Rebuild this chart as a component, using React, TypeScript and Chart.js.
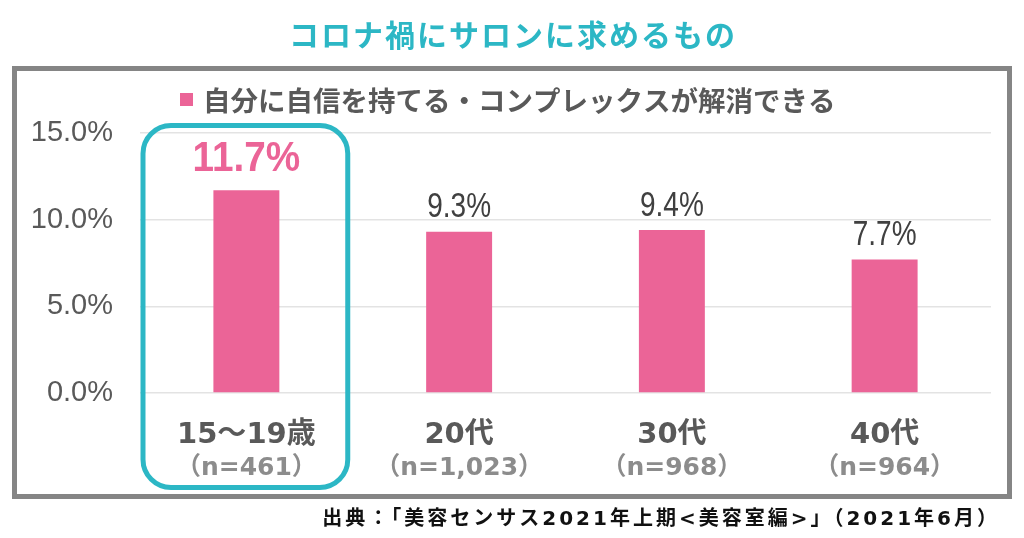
import React, { useEffect, useRef } from "react";
import { Chart, registerables } from "chart.js";

Chart.register(...registerables);

// ---- data ----
const TITLE = "コロナ禍にサロンに求めるもの";
const SERIES_NAME = "自分に自信を持てる・コンプレックスが解消できる";
const CATEGORIES = ["15〜19歳", "20代", "30代", "40代"];
const SAMPLE_SIZES = ["（n=461）", "（n=1,023）", "（n=968）", "（n=964）"];
const VALUES = [11.7, 9.3, 9.4, 7.7];
const Y_MIN = 0;
const Y_MAX = 15;
const Y_STEP = 5;
const HIGHLIGHT_INDEX = 0;
const SOURCE = "出典：「美容センサス2021年上期<美容室編>」（2021年6月）";

// ---- styles ----
const PINK = "#eb6497";
const TEAL = "#2cb7c5";
const DARK = "#595959";
const LABEL_DARK = "#404040";
const MUTED = "#8c8c8c";
const CJK = '"Noto Sans CJK JP", sans-serif';
const NUM = '"Liberation Sans", "Noto Sans CJK JP", sans-serif';
const WIDE = '"DejaVu Sans", "Noto Sans CJK JP", sans-serif';

function scaledText(ctx: CanvasRenderingContext2D, text: string, x: number, y: number, sx: number) {
  ctx.save();
  ctx.translate(x, y);
  ctx.scale(sx, 1);
  ctx.fillText(text, 0, 0);
  ctx.restore();
}

const decorPlugin = {
  id: "decor",
  beforeDraw(chart: any) {
    const ctx: CanvasRenderingContext2D = chart.ctx;
    ctx.save();
    ctx.fillStyle = "#ffffff";
    ctx.fillRect(0, 0, chart.width, chart.height);
    ctx.restore();
  },
  afterDraw(chart: any) {
    const ctx: CanvasRenderingContext2D = chart.ctx as any;
    const meta = chart.getDatasetMeta(0);
    const xScale = chart.scales.x;
    ctx.save();

    // title
    ctx.fillStyle = TEAL;
    ctx.font = `bold 30px ${CJK}`;
    (ctx as any).letterSpacing = "2px";
    ctx.textAlign = "center";
    ctx.textBaseline = "middle";
    ctx.fillText(TITLE, 513, 35);
    (ctx as any).letterSpacing = "0px";

    // frame
    ctx.strokeStyle = "#858585";
    ctx.lineWidth = 5;
    ctx.strokeRect(14.5, 68.5, 995, 428);

    // legend
    ctx.fillStyle = PINK;
    ctx.fillRect(180, 93, 13, 13);
    ctx.fillStyle = DARK;
    ctx.font = `bold 27.5px ${CJK}`;
    ctx.textAlign = "left";
    ctx.textBaseline = "middle";
    ctx.fillText(SERIES_NAME, 203, 101);

    // value labels
    meta.data.forEach((bar: any, i: number) => {
      const v = VALUES[i];
      const txt = v.toFixed(1) + "%";
      ctx.textAlign = "center";
      ctx.textBaseline = "middle";
      if (i === HIGHLIGHT_INDEX) {
        ctx.fillStyle = PINK;
        ctx.font = `bold 43px ${NUM}`;
        scaledText(ctx, txt, bar.x, bar.y - 31, 0.9);
      } else {
        ctx.fillStyle = LABEL_DARK;
        ctx.font = `35px ${NUM}`;
        scaledText(ctx, txt, bar.x, bar.y - 24, 0.8);
      }
    });

    // category labels
    CATEGORIES.forEach((c, i) => {
      const x = xScale.getPixelForValue(i);
      ctx.textAlign = "center";
      ctx.textBaseline = "middle";
      ctx.fillStyle = DARK;
      ctx.font = `bold 29px ${WIDE}`;
      ctx.fillText(c, x, 435);
      ctx.fillStyle = MUTED;
      ctx.font = `bold 25px ${WIDE}`;
      ctx.fillText(SAMPLE_SIZES[i], x, 468);
    });

    // highlight box
    const hx = xScale.getPixelForValue(HIGHLIGHT_INDEX);
    const catW = xScale.width / CATEGORIES.length;
    ctx.strokeStyle = TEAL;
    ctx.lineWidth = 5;
    ctx.beginPath();
    (ctx as any).roundRect(hx - catW / 2 + 3, 125.5, catW - 8, 362, 28);
    ctx.stroke();

    // source
    ctx.fillStyle = "#111111";
    ctx.font = `bold 20px ${WIDE}`;
    (ctx as any).letterSpacing = "3px";
    ctx.textAlign = "right";
    ctx.textBaseline = "middle";
    ctx.fillText(SOURCE, 1000, 520);
    (ctx as any).letterSpacing = "0px";

    ctx.restore();
  },
};

export default function App() {
  const ref = useRef<HTMLCanvasElement>(null);
  useEffect(() => {
    if (!ref.current) return;
    const chart = new Chart(ref.current, {
      type: "bar",
      data: {
        labels: CATEGORIES,
        datasets: [
          {
            label: SERIES_NAME,
            data: VALUES,
            backgroundColor: PINK,
            barPercentage: 0.31,
            categoryPercentage: 1.0,
          },
        ],
      },
      options: {
        animation: false,
        responsive: false,
        layout: { padding: { top: 133, bottom: 145, left: 0, right: 33 } },
        plugins: {
          legend: { display: false },
          title: { display: false },
          tooltip: { enabled: false },
        },
        scales: {
          x: {
            grid: { display: false },
            border: { display: false },
            ticks: { display: false },
            afterFit: (s: any) => {
              s.height = 0;
            },
          },
          y: {
            min: Y_MIN,
            max: Y_MAX,
            ticks: {
              stepSize: Y_STEP,
              padding: 27,
              color: DARK,
              font: { family: NUM, size: 29 },
              callback: (v: any) => Number(v).toFixed(1) + "%",
            },
            grid: { color: "#e3e3e3", lineWidth: 1.5, drawTicks: false },
            border: { display: false },
            afterFit: (s: any) => {
              s.width = 140;
            },
          },
        },
      },
      plugins: [decorPlugin],
    });
    return () => chart.destroy();
  }, []);
  return (
    <div style={{ position: "absolute", left: 0, top: 0, width: 1024, height: 538, background: "#fff" }}>
      <canvas ref={ref} width={1024} height={538} style={{ display: "block" }} />
    </div>
  );
}
